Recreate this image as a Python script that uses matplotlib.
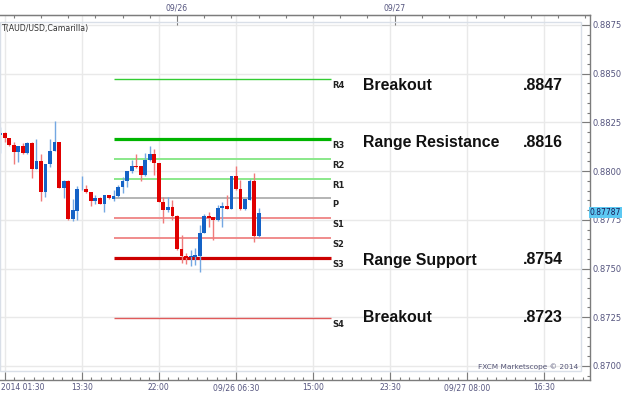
import pandas as pd
import matplotlib
matplotlib.use("Agg")
from matplotlib import pyplot as plt
from matplotlib.ticker import FixedLocator, MultipleLocator, FuncFormatter
from matplotlib.patches import Rectangle

# 30 minute AUD/USD candles, 09/25 04:30 .. 09/26 09:00
candle_start = "2014-09-25 04:30"
opens = [0.88185, 0.88197, 0.88168, 0.88133, 0.88097, 0.88129, 0.88091, 0.88146, 0.88012, 0.88053,
         0.87891, 0.88035, 0.88105, 0.88149, 0.87915, 0.87951, 0.87753, 0.87795, 0.87907, 0.87910,
         0.87891, 0.87848, 0.87864, 0.87830, 0.87877, 0.87858, 0.87872, 0.87917, 0.87948, 0.87999,
         0.88026, 0.88026, 0.87979, 0.88057, 0.88086, 0.88040, 0.87843, 0.87800, 0.87814, 0.87771,
         0.87599, 0.87566, 0.87558, 0.87558, 0.87563, 0.87684, 0.87770, 0.87763, 0.87749, 0.87809,
         0.87821, 0.87806, 0.87975, 0.87907, 0.87804, 0.87852, 0.87949, 0.87667]
highs = [0.88228, 0.88200, 0.88170, 0.88149, 0.88130, 0.88146, 0.88148, 0.88148, 0.88163, 0.88088,
         0.88036, 0.88163, 0.88259, 0.88151, 0.87952, 0.87953, 0.87855, 0.87924, 0.87975, 0.87929,
         0.87894, 0.87877, 0.87866, 0.87878, 0.87878, 0.87903, 0.87930, 0.87971, 0.88000, 0.88057,
         0.88088, 0.88027, 0.88091, 0.88129, 0.88112, 0.88042, 0.87866, 0.87866, 0.87852, 0.87773,
         0.87672, 0.87578, 0.87595, 0.87604, 0.87724, 0.87780, 0.87792, 0.87765, 0.87825, 0.87843,
         0.87877, 0.87977, 0.88026, 0.87954, 0.87856, 0.87958, 0.87992, 0.87809]
lows = [0.88095, 0.88148, 0.88129, 0.88037, 0.88045, 0.88090, 0.88089, 0.87963, 0.88010, 0.87848,
        0.87866, 0.88023, 0.88103, 0.87913, 0.87860, 0.87751, 0.87745, 0.87749, 0.87903, 0.87886,
        0.87821, 0.87830, 0.87829, 0.87792, 0.87859, 0.87848, 0.87869, 0.87886, 0.87920, 0.87989,
        0.88018, 0.87951, 0.87977, 0.88052, 0.87980, 0.87841, 0.87732, 0.87792, 0.87749, 0.87597,
        0.87527, 0.87523, 0.87513, 0.87518, 0.87484, 0.87681, 0.87715, 0.87646, 0.87745, 0.87715,
        0.87804, 0.87804, 0.87905, 0.87802, 0.87802, 0.87851, 0.87638, 0.87660]
closes = [0.88197, 0.88168, 0.88133, 0.88097, 0.88129, 0.88091, 0.88146, 0.88012, 0.88053, 0.87891,
          0.88035, 0.88105, 0.88149, 0.87915, 0.87951, 0.87753, 0.87800, 0.87910, 0.87910, 0.87891,
          0.87848, 0.87864, 0.87830, 0.87877, 0.87860, 0.87872, 0.87920, 0.87948, 0.87999, 0.88026,
          0.88020, 0.87979, 0.88057, 0.88086, 0.88040, 0.87843, 0.87800, 0.87814, 0.87771, 0.87599,
          0.87566, 0.87552, 0.87563, 0.87569, 0.87684, 0.87770, 0.87758, 0.87749, 0.87812, 0.87821,
          0.87806, 0.87975, 0.87907, 0.87804, 0.87855, 0.87949, 0.87667, 0.87787]

# camarilla pivots
level_names = ["R4", "R3", "R2", "R1", "P", "S1", "S2", "S3", "S4"]
level_values = [0.88473, 0.88167, 0.88064, 0.87962, 0.87862, 0.87758, 0.87656, 0.87553, 0.87247]
level_colors = ["#33cc33", "#00b400", "#8ae88a", "#8ae88a", "#b4b4b4", "#f08c8c", "#f08c8c", "#cc0000", "#e05a5a"]
level_widths = [1.0, 2.3, 1.4, 1.4, 1.4, 1.4, 1.4, 2.3, 1.0]
pivot_from, pivot_to = -7.0, 17.0  # hours from 09/26 00:00

notes = ["Breakout", "Range Resistance", "Range Support", "Breakout"]
note_values = [".8847", ".8816", ".8754", ".8723"]
note_ypx = [86, 143, 260, 318]

bottom_ticks = [-19, -10.5, -2, 6.5, 15, 23.5, 32, 40.5]
bottom_labels = ["", "13:30", "22:00", "09/26 06:30", "15:00", "23:30", "09/27 08:00", "16:30"]
top_ticks = [0, 24]
top_labels = ["09/26", "09/27"]

W, H = 624, 394
tick_col = "#55557f"
spine_col = "#7c7c7c"


def fx(px):
    return px / W


def fy(py):
    return 1 - py / H


t0 = pd.Timestamp("2014-09-26 00:00")
times = pd.date_range(candle_start, periods=len(opens), freq="30min")
hours = [(t - t0).total_seconds() / 3600 for t in times]

fig = plt.figure(figsize=(6.24, 3.94), dpi=100)
ax = fig.add_axes([0, fy(380), fx(590), (380 - 15) / H])
ax.set_xlim(-177 / 9.07, (590 - 177) / 9.07)
ax.set_ylim(0.869278, 0.888013)

# inner frame + grid
fig.patches.append(Rectangle((0, fy(371)), fx(581), (371 - 22) / H, transform=fig.transFigure,
                             fill=False, edgecolor="#d9dfe8", lw=1, zorder=0))
for t in bottom_ticks:
    ax.axvline(t, color="#e9e9e9", lw=1, zorder=0)
for p in [0.8700 + 0.0025 * k for k in range(8)]:
    ax.axhline(p, color="#e9e9e9", lw=1, zorder=0)

# candles
up = [c >= o for o, c in zip(opens, closes)]
wick_cols = ["#74a8e2" if u else "#f07a7a" for u in up]
body_cols = ["#1462c6" if u else "#e00000" for u in up]
ax.vlines(hours, lows, highs, colors=wick_cols, lw=1, zorder=2)
heights = [max(abs(c - o), 0.00003) for o, c in zip(opens, closes)]
bottoms = [min(o, c) for o, c in zip(opens, closes)]
ax.bar(hours, heights, bottom=bottoms, width=0.42, color=body_cols, linewidth=0, zorder=3)

# pivot lines
ax.hlines(level_values, pivot_from, pivot_to, colors=level_colors, linewidths=level_widths, zorder=1)
for name, v in zip(level_names, level_values):
    ax.annotate(name, (pivot_to, v), xytext=(0.5, -1.5), textcoords="offset points",
                ha="left", va="top", fontsize=6, fontweight="bold", color="#222222")

# axes styling
ax.spines["left"].set_visible(False)
for s in ["right", "top", "bottom"]:
    ax.spines[s].set_color(spine_col)
    ax.spines[s].set_linewidth(1)

ax.yaxis.tick_right()
ax.yaxis.set_major_locator(FixedLocator([0.8700 + 0.0025 * k for k in range(8)]))
ax.yaxis.set_minor_locator(MultipleLocator(0.0005))
ax.yaxis.set_major_formatter(FuncFormatter(lambda v, pos: f"{v:.4f}"))
ax.tick_params(axis="y", which="major", direction="in", length=6.5, width=0.8, color=spine_col,
               labelsize=6, labelcolor=tick_col, pad=1.5)
ax.tick_params(axis="y", which="minor", direction="in", length=2.2, width=0.8, color=spine_col)

ax.set_xticks(bottom_ticks)
ax.set_xticklabels(bottom_labels)
ax.xaxis.set_minor_locator(FixedLocator([bottom_ticks[0] + 8.5 / 8 * k for k in range(70)]))
ax.tick_params(axis="x", which="major", direction="in", length=6, width=0.8, color=spine_col,
               labelsize=5.5, labelcolor=tick_col, pad=2.5)
ax.tick_params(axis="x", which="minor", direction="in", length=2.2, width=0.8, color=spine_col)
fig.text(0.002, fy(387), "2014 01:30", fontsize=5.5, color=tick_col, ha="left", va="center")

secax = ax.secondary_xaxis("top")
secax.set_xticks(top_ticks)
secax.set_xticklabels(top_labels)
secax.xaxis.set_minor_locator(FixedLocator([-18 + 3 * k for k in range(22)]))
secax.tick_params(axis="x", which="major", direction="in", length=7, width=0.8, color=spine_col,
                  labelsize=5.6, labelcolor=tick_col, pad=2)
secax.tick_params(axis="x", which="minor", direction="in", length=2.2, width=0.8, color=spine_col)
secax.spines["top"].set_color(spine_col)

# texts
fig.text(0.002, fy(28), "T(AUD/USD,Camarilla)", fontsize=5.7, color="#333333", ha="left", va="center")
for label, val, py in zip(notes, note_values, note_ypx):
    fig.text(fx(363), fy(py), label, fontsize=11.4, fontweight="bold", family="Liberation Sans",
             color="#111111", ha="left", va="center")
    fig.text(fx(523), fy(py), val, fontsize=11.4, fontweight="bold", family="Liberation Sans",
             color="#111111", ha="left", va="center")
fig.text(fx(578), fy(367), "FXCM Marketscope \u00a9 2014", fontsize=5.3, color="#555577",
         ha="right", va="center")

# last price tag
ax.annotate(f"{closes[-1]:.5f}", (1.0, closes[-1]), xycoords=("axes fraction", "data"),
            xytext=(0, 0), textcoords="offset points", ha="left", va="center", fontsize=5.5,
            color="#1a1a55", annotation_clip=False,
            bbox=dict(boxstyle="square,pad=0.12", facecolor="#5cc8f2", edgecolor="none"))

fig.savefig("out.png", dpi=100)
